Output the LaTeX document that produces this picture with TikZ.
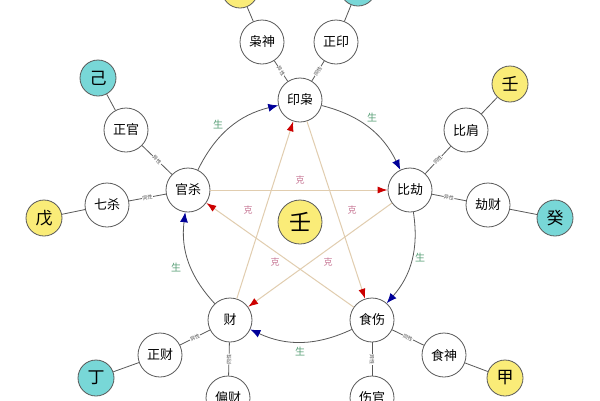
\documentclass[tikz,border=0pt]{standalone}
\usepackage{fontspec}
\newfontfamily\cjk{Noto Sans CJK SC}
\usetikzlibrary{arrows.meta}
\definecolor{ylw}{RGB}{250,236,120}
\definecolor{cyn}{RGB}{120,215,215}
\definecolor{tan}{RGB}{225,205,175}
\definecolor{gr}{RGB}{90,160,120}
\definecolor{pk}{RGB}{200,120,150}
\tikzset{
 nd/.style={circle,draw=gray!70!black,line width=0.8pt,fill=white,minimum size=44pt,inner sep=0pt,font=\cjk\fontsize{13}{13}\selectfont},
 el/.style={circle,draw=gray!70!black,line width=0.8pt,minimum size=36pt,inner sep=0pt,font=\cjk\fontsize{17}{17}\selectfont},
 sp/.style={draw=gray!70!black,line width=0.8pt},
 sl/.style={font=\cjk\fontsize{5}{5}\selectfont,text=gray!60!black,inner sep=0.5pt,fill=white,sloped},
 sheng/.style={draw=gray!70!black,line width=0.8pt,-{Latex[length=10pt,width=8pt]},arrows={-{Latex[length=10pt,width=8pt,fill=blue!60!black,color=blue!60!black]}}},
 ke/.style={draw=tan,line width=1pt,-{Latex[length=10pt,width=7pt,color=red!80!black]}},
 gl/.style={font=\cjk\fontsize{10}{10}\selectfont,text=gr},
 kl/.style={font=\cjk\fontsize{9}{9}\selectfont,text=pk}
}
\begin{document}
\begin{tikzpicture}[x=1pt,y=-1pt]
\useasboundingbox (0,0) rectangle (600,400);
\clip (0,0) rectangle (600,400);
\fill[white] (0,0) rectangle (600,400);
% five main
\node[nd] (yx) at (300,100) {印枭};
\node[nd] (bj) at (410,190) {比劫};
\node[nd] (ss) at (372,320) {食伤};
\node[nd] (cai) at (230,320) {财};
\node[nd] (gs) at (188,190) {官杀};
\node[el,fill=ylw,minimum size=44pt,font=\cjk\fontsize{22}{22}\selectfont] (ren) at (300,222) {壬};
% ke star
\draw[ke] (cai) -- (yx);
\draw[ke] (gs) -- (bj);
\draw[ke] (ss) -- (gs);
\draw[ke] (bj) -- (cai);
\draw[ke] (yx) -- (ss);
\node[kl] at (300,180) {克};
\node[kl] at (248,210) {克};
\node[kl] at (352,210) {克};
\node[kl] at (275,262) {克};
\node[kl] at (328,262) {克};
% sheng cycle
\draw[sheng] (gs) to[bend left=25] (yx);
\draw[sheng] (yx) to[bend left=25] (bj);
\draw[sheng] (bj) to[bend left=25] (ss);
\draw[sheng] (ss) to[bend left=25] (cai);
\draw[sheng] (cai) to[bend left=25] (gs);
\node[gl] at (218,125) {生};
\node[gl] at (372,118) {生};
\node[gl] at (420,258) {生};
\node[gl] at (300,352) {生};
\node[gl] at (176,268) {生};
% outer
\node[nd] (xs) at (262,42) {枭神};
\node[nd] (zy) at (336,42) {正印};
\node[nd] (zg) at (126,130) {正官};
\node[nd] (qs) at (107,205) {七杀};
\node[nd] (bjn) at (466,130) {比肩};
\node[nd] (jc) at (488,205) {劫财};
\node[nd] (zc) at (160,355) {正财};
\node[nd] (pc) at (228,398) {偏财};
\node[nd] (sh) at (444,355) {食神};
\node[nd] (sg) at (372,398) {伤官};
\node[el,fill=ylw] (e1) at (240,-10) {};
\node[el,fill=cyn] (e2) at (358,-12) {};
\node[el,fill=cyn] (e3) at (98,78) {己};
\node[el,fill=ylw] (e4) at (44,218) {戊};
\node[el,fill=ylw] (e5) at (510,84) {壬};
\node[el,fill=cyn] (e6) at (555,218) {癸};
\node[el,fill=cyn] (e7) at (96,378) {丁};
\node[el,fill=ylw] (e8) at (505,378) {甲};
% spokes
\draw[sp] (yx) -- node[sl]{异性} (xs);
\draw[sp] (yx) -- node[sl]{同性} (zy);
\draw[sp] (gs) -- node[sl]{异性} (zg);
\draw[sp] (gs) -- node[sl]{同性} (qs);
\draw[sp] (bj) -- node[sl]{同性} (bjn);
\draw[sp] (bj) -- node[sl]{异性} (jc);
\draw[sp] (cai) -- node[sl]{异性} (zc);
\draw[sp] (cai) -- node[sl]{同性} (pc);
\draw[sp] (ss) -- node[sl]{同性} (sh);
\draw[sp] (ss) -- node[sl]{异性} (sg);
\draw[sp] (xs) -- (e1);
\draw[sp] (zy) -- (e2);
\draw[sp] (zg) -- (e3);
\draw[sp] (qs) -- (e4);
\draw[sp] (bjn) -- (e5);
\draw[sp] (jc) -- (e6);
\draw[sp] (zc) -- (e7);
\draw[sp] (sh) -- (e8);
\end{tikzpicture}
\end{document}
